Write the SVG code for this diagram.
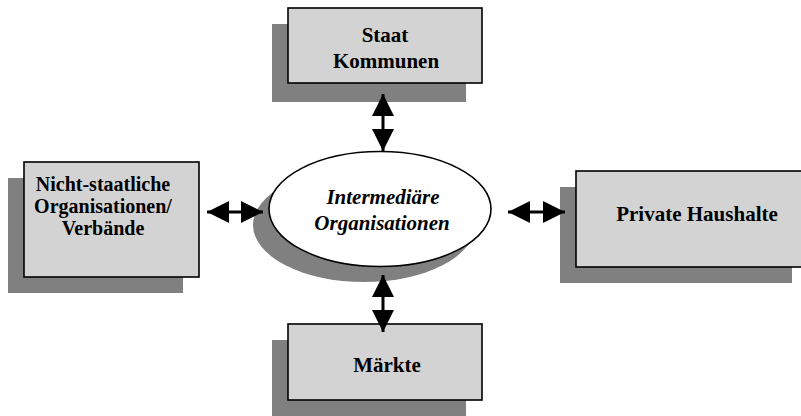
<svg xmlns="http://www.w3.org/2000/svg" width="801" height="416" viewBox="0 0 801 416">
<style>
.box{fill:#d3d3d3;stroke:#000;stroke-width:1.6}
.sh{fill:#808080}
.t{font-family:"Liberation Serif","Times New Roman",serif;font-weight:bold;font-size:21px;fill:#000;text-anchor:middle}
.ts{font-size:20px}
.ti{font-style:italic}
.ar{stroke:#000;stroke-width:3;fill:none;marker-start:url(#ah);marker-end:url(#ah)}
</style>
<defs>
<marker id="ah" viewBox="0 0 22 22" refX="22" refY="11" markerWidth="22" markerHeight="22" markerUnits="userSpaceOnUse" orient="auto-start-reverse">
<path d="M0,0 L22,11 L0,22 Z" fill="#000"/>
</marker>
</defs>
<rect width="801" height="416" fill="#fff"/>
<g id="staat">
<rect class="sh" x="272" y="24" width="194" height="78"/>
<rect class="box" x="288" y="8" width="194" height="75"/>
<text class="t" x="385" y="42">Staat</text>
<text class="t" x="386" y="68">Kommunen</text>
</g>
<g id="verbaende">
<rect class="sh" x="8" y="178" width="175" height="115"/>
<rect class="box" x="24" y="162" width="175" height="115"/>
<text class="t ts" x="103" y="191">Nicht-staatliche</text>
<text class="t ts" x="103" y="213">Organisationen/</text>
<text class="t ts" x="103" y="235">Verbände</text>
</g>
<g id="intermediaere">
<ellipse class="sh" cx="364" cy="225" rx="111" ry="57"/>
<ellipse cx="380" cy="209" rx="111" ry="57.5" fill="#fff" stroke="#000" stroke-width="1.6"/>
<text class="t ti" x="383" y="204">Intermediäre</text>
<text class="t ti" x="382" y="230">Organisationen</text>
</g>
<g id="haushalte">
<rect class="sh" x="560" y="187" width="232" height="96"/>
<rect class="box" x="576" y="171" width="240" height="96"/>
<text class="t" x="697" y="221">Private Haushalte</text>
</g>
<g id="maerkte">
<rect class="sh" x="272" y="340" width="194" height="76"/>
<rect class="box" x="288" y="324" width="194" height="76"/>
<text class="t" x="387" y="372">Märkte</text>
</g>
<g id="connectors">
<line class="ar" x1="383" y1="94" x2="383" y2="151"/>
<line class="ar" x1="383" y1="275" x2="383" y2="332"/>
<line class="ar" x1="207" y1="212" x2="263" y2="212"/>
<line class="ar" x1="508" y1="212" x2="565" y2="212"/>
</g>
</svg>
